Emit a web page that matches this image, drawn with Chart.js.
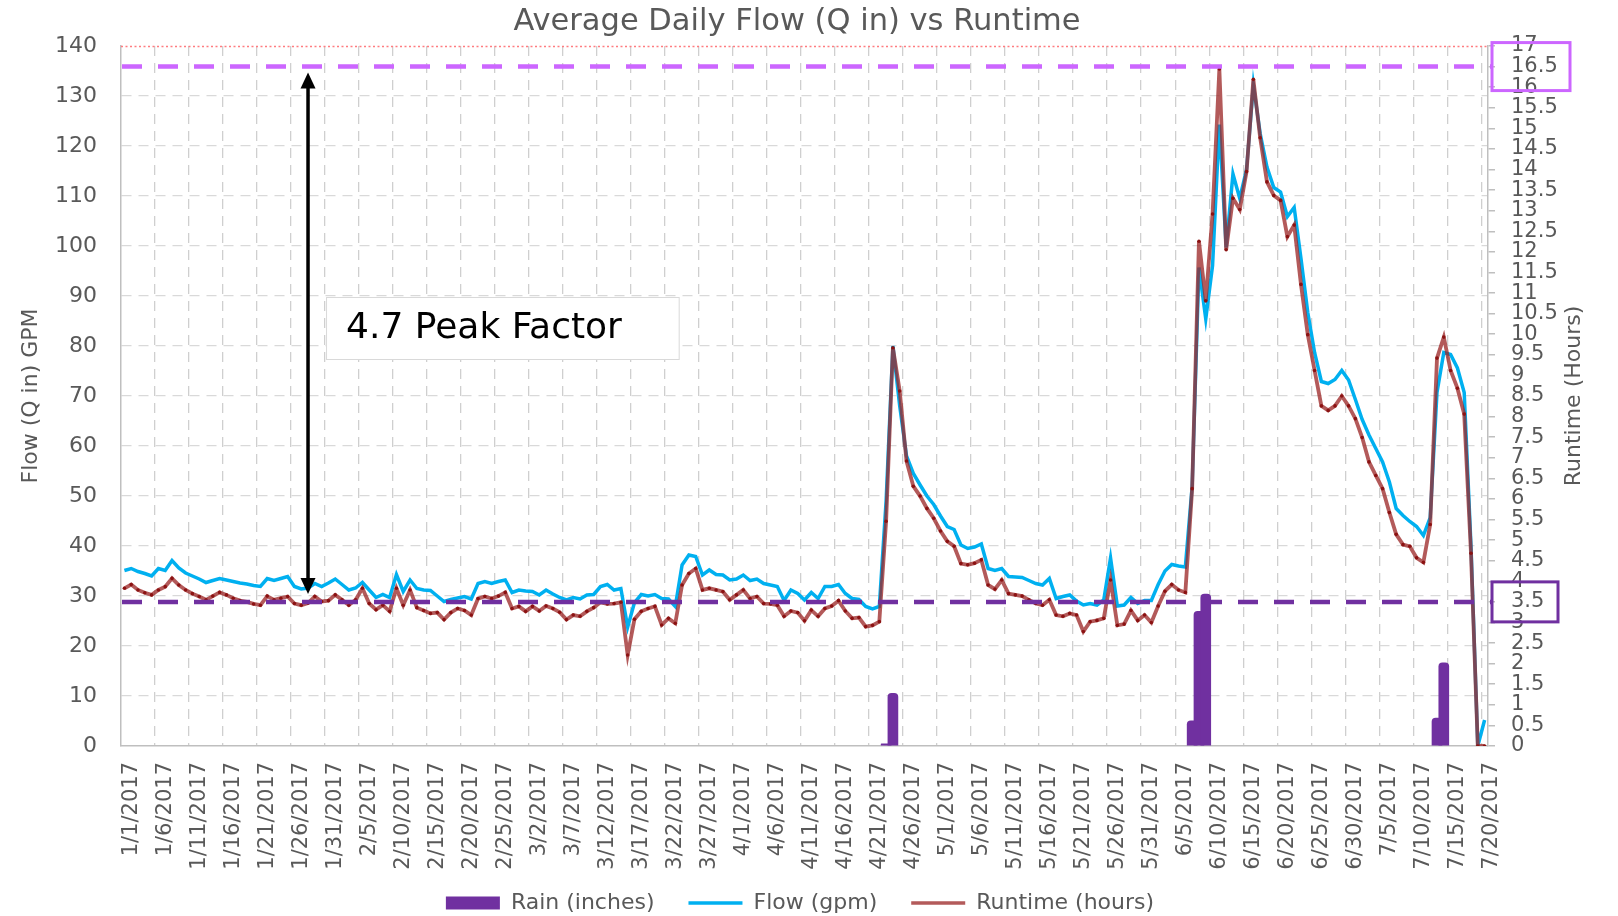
<!DOCTYPE html>
<html>
<head>
<meta charset="utf-8">
<script src="https://cdn.jsdelivr.net/npm/chart.js@4/dist/chart.umd.min.js"></script>
<style>
html,body{margin:0;padding:0;background:#fff;}
#wrap{width:1618px;height:916px;position:relative;}
canvas{display:block;}
</style>
</head>
<body>
<div id="wrap"><canvas id="c" width="1618" height="916"></canvas></div>
<script>
// ---------------- DATA ----------------
const DAY_COUNT = 201;               // 1/1/2017 .. 7/20/2017
const DATES = [];
for (let i = 0; i < DAY_COUNT; i++) {
  const d = new Date(2017, 0, 1 + i);
  DATES.push((d.getMonth() + 1) + '/' + d.getDate() + '/' + d.getFullYear());
}
const LABEL_EVERY = 5;

const FLOW_GPM = [
  35.1, 35.5, 34.9, 34.5, 34.0, 35.5, 35.1, 37.1, 35.6, 34.6,
  34.0, 33.4, 32.7, 33.1, 33.5, 33.2, 32.9, 32.6, 32.4, 32.1,
  31.9, 33.5, 33.1, 33.5, 33.9, 31.9, 31.4, 31.6, 32.5, 31.9,
  32.6, 33.4, 32.3, 31.2, 31.6, 32.7, 31.2, 29.7, 30.3, 29.7,
  34.3, 30.9, 33.2, 31.5, 31.2, 31.1, 30.0, 28.9, 29.3, 29.6,
  29.9, 29.4, 32.5, 32.9, 32.5, 32.9, 33.2, 30.7, 31.2, 31.0,
  30.9, 30.2, 31.2, 30.4, 29.7, 29.2, 29.7, 29.4, 30.2, 30.3,
  31.9, 32.3, 31.2, 31.5, 23.8, 28.7, 30.3, 30.0, 30.3, 29.5,
  29.4, 27.9, 36.2, 38.2, 37.9, 34.2, 35.2, 34.3, 34.2, 33.2,
  33.4, 34.2, 33.1, 33.4, 32.5, 32.2, 31.9, 29.1, 31.2, 30.5,
  29.2, 30.7, 29.5, 31.9, 31.9, 32.3, 30.5, 29.5, 29.3, 27.9,
  27.4, 27.9, 49.0, 80.0, 68.0, 58.0, 54.5, 52.2, 50.0, 48.3,
  46.0, 43.9, 43.3, 40.2, 39.5, 39.8, 40.4, 35.5, 35.1, 35.5,
  33.9, 33.8, 33.7, 33.1, 32.5, 32.2, 33.5, 29.5, 29.9, 30.2,
  29.0, 28.2, 28.5, 28.2, 29.2, 37.6, 28.0, 28.2, 29.7, 28.5,
  29.1, 29.1, 32.3, 35.0, 36.3, 36.0, 35.8, 51.9, 95.7, 85.4,
  96.1, 124.3, 99.7, 114.4, 109.5, 115.3, 132.3, 122.5, 115.8, 111.7,
  110.8, 105.9, 107.7, 97.5, 86.7, 78.7, 72.9, 72.5, 73.3, 75.1,
  73.2, 69.3, 65.3, 62.2, 59.5, 56.8, 52.8, 47.5, 46.1, 44.9,
  43.9, 42.1, 45.7, 70.7, 78.7, 78.3, 75.6, 70.7, 40.0, 0,
  5.2
];

const RUNTIME_HOURS = [
  3.83, 3.92, 3.79, 3.72, 3.67, 3.79, 3.87, 4.07, 3.91, 3.79,
  3.70, 3.63, 3.55, 3.64, 3.73, 3.67, 3.59, 3.53, 3.50, 3.45,
  3.42, 3.64, 3.55, 3.59, 3.63, 3.46, 3.42, 3.47, 3.63, 3.51,
  3.53, 3.67, 3.55, 3.42, 3.55, 3.83, 3.46, 3.31, 3.42, 3.27,
  3.83, 3.42, 3.79, 3.36, 3.29, 3.22, 3.24, 3.07, 3.24, 3.34,
  3.29, 3.18, 3.58, 3.63, 3.58, 3.64, 3.73, 3.34, 3.39, 3.27,
  3.39, 3.28, 3.40, 3.34, 3.25, 3.07, 3.18, 3.15, 3.27, 3.36,
  3.49, 3.45, 3.46, 3.49, 2.21, 3.08, 3.27, 3.34, 3.39, 2.94,
  3.10, 2.98, 3.91, 4.19, 4.31, 3.79, 3.83, 3.79, 3.75, 3.55,
  3.67, 3.79, 3.58, 3.63, 3.46, 3.45, 3.42, 3.15, 3.28, 3.24,
  3.04, 3.30, 3.15, 3.34, 3.40, 3.53, 3.28, 3.10, 3.12, 2.90,
  2.93, 3.02, 5.46, 9.67, 8.62, 6.92, 6.31, 6.07, 5.77, 5.53,
  5.22, 4.97, 4.85, 4.43, 4.40, 4.44, 4.52, 3.91, 3.81, 4.03,
  3.70, 3.67, 3.64, 3.55, 3.46, 3.42, 3.55, 3.18, 3.15, 3.22,
  3.18, 2.78, 3.02, 3.05, 3.10, 4.03, 2.93, 2.96, 3.29, 3.05,
  3.18, 3.00, 3.40, 3.76, 3.92, 3.79, 3.73, 6.25, 12.26, 10.81,
  12.92, 16.44, 12.05, 13.30, 13.03, 13.95, 16.19, 14.77, 13.70, 13.37,
  13.25, 12.37, 12.65, 11.21, 9.99, 9.12, 8.26, 8.15, 8.26, 8.50,
  8.26, 7.95, 7.49, 6.90, 6.57, 6.25, 5.67, 5.14, 4.89, 4.85,
  4.57, 4.46, 5.38, 9.42, 9.93, 9.12, 8.69, 8.06, 4.68, 0,
  0
];

const RAIN_DATES  = ['4/23/2017', '4/24/2017', '6/7/2017', '6/8/2017', '6/9/2017', '7/13/2017', '7/14/2017'];
const RAIN_INCHES = [0.05, 1.28, 0.61, 3.27, 3.69, 0.68, 2.02];

const FLOW_TICKS_MAX = 140, FLOW_TICK_STEP = 10;
const HOURS_TICKS_MAX = 17, HOURS_TICK_STEP = 0.5;

const PEAK_HOURS = 16.5;      // upper reference line (light purple)
const BASE_HOURS = 3.5;       // lower reference line (dark purple)
const PEAK_FACTOR_TEXT = '4.7 Peak Factor';
const ARROW_DATE = '1/28/2017';
const PF_BOX = { fromIndex: 29.65, toIndex: 81.5, top: 89.8, bottom: 77.4 };

const TITLE = 'Average Daily Flow (Q in) vs Runtime';
const LEFT_TITLE = 'Flow (Q in) GPM';
const RIGHT_TITLE = 'Runtime (Hours)';

// -------------- STYLE / LAYOUT --------------
const W = 1618, H = 916;
const PLOT_LEFT = 121, PLOT_RIGHT = 1488, PLOT_BOTTOM = 746;
const FONT = "'DejaVu Sans', sans-serif";
const TEXT_GREY = '#595959';
const AXIS_GREY = '#bfbfbf';
const HGRID = '#d9d9d9';
const VGRID = '#cfcfcf';
const FLOW_COLOR = '#00B0F0';
const RUN_COLOR = 'rgba(155,38,38,0.76)';
const RUN_DOT = '#8b1212';
const RAIN_COLOR = '#7030A0';
const PEAK_COLOR = '#CC66FF';
const BASE_COLOR = '#7030A0';

const RAIN_SERIES = DATES.map(d => {
  const k = RAIN_DATES.indexOf(d);
  return k >= 0 ? RAIN_INCHES[k] : null;
});

const overlay = {
  id: 'overlay',
  afterLayout(chart) {
    const lg = chart.legend;
    if (lg) { lg.top += 8; lg.bottom += 8; lg.left -= 9; lg.right -= 9; }
    const tb = chart.titleBlock;
    if (tb) { tb.left -= 24; tb.right -= 0; }
    // let the rotated date labels use the space under the axis down to the legend
    chart.scales.x.bottom = H;
  },
  afterDatasetsDraw(chart) {
    const { ctx, chartArea: a, scales } = chart;
    const x = scales.x, y = scales.y, yR = scales.yR;
    ctx.save();
    // dotted red line at top
    const ty = Math.round(y.getPixelForValue(FLOW_TICKS_MAX)) + 0.5;
    ctx.setLineDash([2, 2.5]); ctx.lineWidth = 1.5; ctx.strokeStyle = '#ff7c80';
    ctx.beginPath(); ctx.moveTo(a.left, ty); ctx.lineTo(a.right, ty); ctx.stroke();
    // reference lines
    [[PEAK_HOURS, PEAK_COLOR], [BASE_HOURS, BASE_COLOR]].forEach(([v, c]) => {
      const yy = yR.getPixelForValue(v);
      ctx.setLineDash([20, 16]); ctx.lineWidth = 4.5; ctx.strokeStyle = c;
      ctx.beginPath(); ctx.moveTo(a.left + 1, yy); ctx.lineTo(a.right + 3, yy); ctx.stroke();
    });
    // double arrow
    const ax = x.getPixelForValue(DATES.indexOf(ARROW_DATE));
    const yTop = yR.getPixelForValue(PEAK_HOURS) + 6;
    const yBot = yR.getPixelForValue(BASE_HOURS) - 8;
    ctx.setLineDash([]); ctx.strokeStyle = '#000'; ctx.fillStyle = '#000'; ctx.lineWidth = 3.5;
    ctx.beginPath(); ctx.moveTo(ax, yTop + 12); ctx.lineTo(ax, yBot - 12); ctx.stroke();
    ctx.beginPath(); ctx.moveTo(ax, yTop); ctx.lineTo(ax - 7.5, yTop + 16); ctx.lineTo(ax + 7.5, yTop + 16); ctx.closePath(); ctx.fill();
    ctx.beginPath(); ctx.moveTo(ax, yBot); ctx.lineTo(ax - 7.5, yBot - 16); ctx.lineTo(ax + 7.5, yBot - 16); ctx.closePath(); ctx.fill();
    // text box
    const bx0 = x.getPixelForValue(PF_BOX.fromIndex), bx1 = x.getPixelForValue(PF_BOX.toIndex);
    const by0 = y.getPixelForValue(PF_BOX.top), by1 = y.getPixelForValue(PF_BOX.bottom);
    ctx.fillStyle = '#fff'; ctx.fillRect(bx0, by0, bx1 - bx0, by1 - by0);
    ctx.strokeStyle = '#d9d9d9'; ctx.lineWidth = 1; ctx.strokeRect(bx0 + 0.5, by0 + 0.5, bx1 - bx0, by1 - by0);
    ctx.fillStyle = '#000'; ctx.font = '36px ' + FONT; ctx.textBaseline = 'middle'; ctx.textAlign = 'left';
    ctx.fillText(PEAK_FACTOR_TEXT, bx0 + 20, (by0 + by1) / 2 + 1);
    ctx.restore();
  },
  afterDraw(chart) {
    const { ctx, chartArea: a, scales } = chart;
    const yR = scales.yR;
    ctx.save();
    // boxes around right-axis labels
    ctx.lineWidth = 3;
    let cy = yR.getPixelForValue(PEAK_HOURS);
    ctx.strokeStyle = PEAK_COLOR;
    ctx.strokeRect(a.right + 4, cy - 24, 78, 48);
    cy = yR.getPixelForValue(BASE_HOURS);
    ctx.strokeStyle = BASE_COLOR;
    ctx.strokeRect(a.right + 4, cy - 20, 66, 40);
    // right axis title, reading bottom to top
    ctx.fillStyle = TEXT_GREY; ctx.font = '22px ' + FONT;
    ctx.textAlign = 'center'; ctx.textBaseline = 'middle';
    ctx.translate(1574, (a.top + a.bottom) / 2);
    ctx.rotate(-Math.PI / 2);
    ctx.fillText(RIGHT_TITLE, 0, 0);
    ctx.restore();
  }
};

Chart.defaults.font.family = FONT;
Chart.defaults.color = TEXT_GREY;

new Chart(document.getElementById('c'), {
  type: 'line',
  data: {
    labels: DATES,
    datasets: [
      {
        type: 'bar', label: 'Rain (inches)', data: RAIN_SERIES, yAxisID: 'yR',
        backgroundColor: RAIN_COLOR, barThickness: 10,
        borderRadius: { topLeft: 4, topRight: 4, bottomLeft: 0, bottomRight: 0 },
        borderSkipped: 'start', order: 3
      },
      {
        type: 'line', label: 'Flow (gpm)', data: FLOW_GPM, yAxisID: 'y',
        borderColor: FLOW_COLOR, borderWidth: 3.5, pointRadius: 0, tension: 0, order: 2
      },
      {
        type: 'line', label: 'Runtime (hours)', data: RUNTIME_HOURS, yAxisID: 'yR',
        borderColor: RUN_COLOR, borderWidth: 3.8, pointRadius: 1.8, pointBackgroundColor: RUN_DOT,
        pointBorderWidth: 0, tension: 0, order: 1
      }
    ]
  },
  options: {
    responsive: false, animation: false, devicePixelRatio: 1,
    layout: { padding: 0 },
    plugins: {
      tooltip: { enabled: false },
      title: {
        display: true, text: TITLE, color: TEXT_GREY,
        font: { size: 30.5, weight: 'normal', family: FONT },
        padding: { top: 4, bottom: 5.4 }
      },
      legend: {
        position: 'bottom',
        labels: {
          usePointStyle: true, pointStyleWidth: 54, boxHeight: 13, padding: 34,
          color: TEXT_GREY, font: { size: 22, family: FONT },
          generateLabels(chart) {
            return chart.data.datasets.map((ds, i) => {
              const isBar = ds.type === 'bar';
              return {
                text: ds.label, datasetIndex: i, hidden: false,
                fillStyle: isBar ? ds.backgroundColor : ds.borderColor,
                strokeStyle: isBar ? ds.backgroundColor : ds.borderColor,
                lineWidth: isBar ? 0 : 3.5,
                pointStyle: isBar ? 'rect' : 'line',
                fontColor: TEXT_GREY
              };
            });
          }
        }
      }
    },
    scales: {
      x: {
        type: 'category', offset: true,
        grid: {
          offset: true, drawTicks: false, lineWidth: 1.3,
          color: c => (c.index !== undefined && c.index > 0 && c.index % LABEL_EVERY === 0) ? VGRID : 'rgba(0,0,0,0)'
        },
        border: { display: true, color: AXIS_GREY, width: 1.5, dash: [10, 7] },
        ticks: {
          autoSkip: false, minRotation: 90, maxRotation: 90, padding: 16, labelOffset: 7,
          color: TEXT_GREY, font: { size: 21, family: FONT },
          callback(v, i) { return i % LABEL_EVERY === 0 ? this.getLabelForValue(v) : ''; }
        },
        afterFit(s) { s.height = H - PLOT_BOTTOM - (s.chart.legend ? s.chart.legend.height : 0); }
      },
      y: {
        position: 'left', min: 0, max: FLOW_TICKS_MAX,
        grid: {
          drawTicks: false, lineWidth: 1.3,
          color: c => (c.tick && (c.tick.value === FLOW_TICKS_MAX || c.tick.value === 0)) ? 'rgba(0,0,0,0)' : HGRID
        },
        border: { display: true, color: AXIS_GREY, width: 1.5, dash: [10, 7] },
        ticks: {
          stepSize: FLOW_TICK_STEP, padding: 24, color: TEXT_GREY,
          font: { size: 22, family: FONT }, callback: v => String(v)
        },
        title: {
          display: true, text: LEFT_TITLE, color: TEXT_GREY,
          font: { size: 22, family: FONT }, padding: { top: 18, bottom: 0 }
        },
        afterFit(s) { s.width = PLOT_LEFT; }
      },
      yR: {
        position: 'right', min: 0, max: HOURS_TICKS_MAX,
        grid: { drawOnChartArea: false, drawTicks: true, tickLength: 7, color: AXIS_GREY, lineWidth: 1.5 },
        border: { display: true, color: AXIS_GREY, width: 1.5 },
        ticks: {
          stepSize: HOURS_TICK_STEP, autoSkip: false, padding: 16, color: TEXT_GREY,
          font: { size: 21, family: FONT }, callback: v => String(v)
        },
        afterFit(s) { s.width = W - PLOT_RIGHT; }
      }
    }
  },
  plugins: [overlay]
});
</script>
</body>
</html>
